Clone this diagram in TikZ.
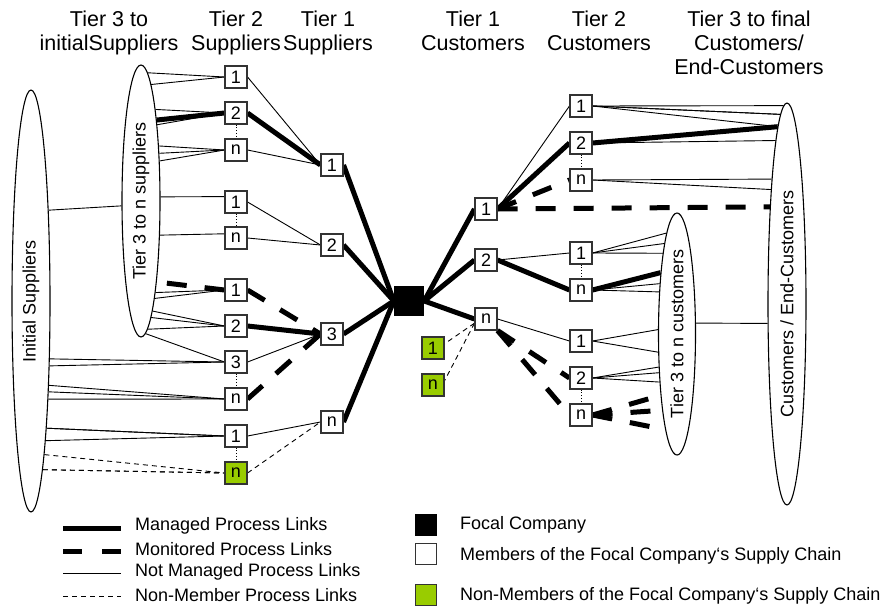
\documentclass[tikz,border=0pt]{standalone}
\usepackage{fontspec}
\setmainfont{Liberation Sans}
\usetikzlibrary{shapes.geometric, backgrounds}
\definecolor{nmgreen}{HTML}{99CC00}

\begin{document}
\begin{tikzpicture}[x=1pt, y=-1pt,
    member/.style={draw=black!80, line width=1.1pt, fill=white, minimum size=22pt, inner sep=0pt, font=\fontsize{18}{20}\selectfont},
    outsider/.style={member, fill=nmgreen},
    group/.style={draw, ellipse, line width=1.1pt, inner sep=0pt, font=\fontsize{18}{20}\selectfont},
    managed/.style={line width=5pt},
    monitored/.style={line width=5pt, dash pattern=on 20pt off 18pt},
    loose/.style={line width=0.9pt},
    nonmem/.style={line width=0.9pt, dash pattern=on 5pt off 4pt},
    tierhead/.style={anchor=north, align=center, inner sep=0pt, font=\fontsize{21.5}{24}\selectfont},
    legend/.style={anchor=west, inner sep=0pt, font=\fontsize{18}{20}\selectfont}]

\useasboundingbox (0,0) rectangle (889,610);

% headings
\node [tierhead] (H1) at (109,11) {Tier 3 to\\initialSuppliers};
\node [tierhead] (H2) at (236,11) {Tier 2\\Suppliers};
\node [tierhead] (H3) at (328,11) {Tier 1\\Suppliers};
\node [tierhead] (H4) at (473,11) {Tier 1\\Customers};
\node [tierhead] (H5) at (599,11) {Tier 2\\Customers};
\node [tierhead] (H6) at (749,11) {Tier 3 to final\\Customers/\\End-Customers};

% supplier groups
\node [group, minimum width=38pt, minimum height=422pt] (IS) at (31,301) {\rotatebox{90}{Initial Suppliers}};
\node [group, minimum width=38pt, minimum height=272pt] (TS) at (141,201) {\rotatebox{90}{Tier 3 to n suppliers}};

% tier 2 suppliers
\node [member] (S21) at (236,77) {1};
\node [member] (S22) at (236,113) {2};
\node [member] (S2n) at (236,150) {n};
\node [member] (S23) at (236,202) {1};
\node [member] (S24) at (236,238) {n};
\node [member] (S25) at (236,290) {1};
\node [member] (S26) at (236,326) {2};
\node [member] (S27) at (236,362) {3};
\node [member] (S28) at (236,399) {n};
\node [member] (S29) at (236,436) {1};
\node [outsider] (S2g) at (236,473) {n};

% tier 1 suppliers
\node [member] (S11) at (332,165) {1};
\node [member] (S12) at (332,245) {2};
\node [member] (S13) at (332,334) {3};
\node [member] (S1n) at (332,422) {n};

% focal company
\node [fill, minimum size=30pt, inner sep=0pt] (F) at (409,301) {};

% tier 1 customers
\node [member] (C11) at (486,209) {1};
\node [member] (C12) at (486,260) {2};
\node [member] (C1n) at (486,319) {n};
\node [outsider] (G1) at (433,348) {1};
\node [outsider] (Gn) at (433,385) {n};

% tier 2 customers
\node [member] (C21) at (581,106) {1};
\node [member] (C22) at (581,143) {2};
\node [member] (C23) at (581,180) {n};
\node [member] (C24) at (581,253) {1};
\node [member] (C25) at (581,290) {n};
\node [member] (C26) at (581,341) {1};
\node [member] (C27) at (581,378) {2};
\node [member] (C28) at (581,415) {n};

% customer groups
\node [group, minimum width=37pt, minimum height=242pt] (TC) at (677,334) {\rotatebox{90}{Tier 3 to n customers}};
\node [group, minimum width=38pt, minimum height=402pt] (EC) at (787,304) {\rotatebox{90}{Customers / End-Customers}};

\begin{scope}[on background layer]
    % initial suppliers / tier 3 to tier 2
    \draw [loose] (IS.79.9) -- (TS.194.7);
    \draw [loose] (TS.87.1) -- (S21.west);
    \draw [loose] (TS.85) -- (S21.west);
    \draw [loose] (TS.81.2) -- (S22.west);
    \draw [managed] (TS.79.9) -- (S22.west);
    \draw [loose] (TS.78.7) -- (S22.west);
    \draw [loose] (TS.72.1) -- (S2n.west);
    \draw [loose] (TS.69.7) -- (S2n.west);
    \draw [loose] (TS.65.5) -- (S2n.west);
    \draw [loose] (TS.12) -- (S23.155);
    \draw [loose] (TS.-61) -- (S24.160);
    \draw [monitored] (S25.west) -- (TS.-79.9);
    \draw [loose] (TS.-81.3) -- (S25.west);
    \draw [loose] (TS.-82.5) -- (S25.west);
    \draw [loose] (TS.-84.8) -- (S26.west);
    \draw [loose] (TS.-85.9) -- (S26.west);
    \draw [loose] (TS.-87.1) -- (S26.west);
    \draw [loose] (TS.-88) -- (S27.west);
    \draw [loose] (IS.-72.5) -- (S27.west);
    \draw [loose] (IS.-74.4) -- (S27.west);
    \draw [loose] (IS.-78.8) -- (S28.west);
    \draw [loose] (IS.-79.9) -- (S28.west);
    \draw [loose] (IS.-80.8) -- (S28.west);
    \draw [loose] (IS.-83) -- (S29.west);
    \draw [loose] (IS.-83.6) -- (S29.west);
    \draw [loose] (IS.-84.2) -- (S29.west);
    \draw [nonmem] (IS.-85.6) -- (S2g.west);
    \draw [nonmem] (IS.-86) -- (S2g.west);
    \draw [nonmem] (IS.-86.5) -- (S2g.west);

    % tier 2 to tier 1 suppliers
    \draw [loose] (S21.east) -- (S11.west);
    \draw [managed] (S22.east) -- (S11.west);
    \draw [loose] (S2n.east) -- (S11.west);
    \draw [loose] (S23.east) -- (S12.west);
    \draw [loose] (S24.east) -- (S12.west);
    \draw [monitored] (S25.east) -- (S13.west);
    \draw [managed] (S26.east) -- (S13.west);
    \draw [loose] (S27.east) -- (S13.west);
    \draw [monitored] (S28.east) -- (S13.west);
    \draw [loose] (S29.east) -- (S1n.west);
    \draw [nonmem] (S2g.east) -- (S1n.west);

    % focal company
    \draw [managed] (S11.east) -- (F.west);
    \draw [managed] (S12.east) -- (F.west);
    \draw [managed] (S13.east) -- (F.west);
    \draw [managed] (S1n.east) -- (F.west);
    \draw [managed] (F.east) -- (C11.west);
    \draw [managed] (F.east) -- (C12.west);
    \draw [managed] (F.east) -- (C1n.west);
    \draw [nonmem] (C1n.200) -- (G1.20);
    \draw [nonmem] (C1n.200) -- (Gn.20);

    % tier 1 to tier 2 customers
    \draw [loose] (C11.east) -- (C21.west);
    \draw [managed] (C11.east) -- (C22.west);
    \draw [monitored] (C11.east) -- (C23.west);
    \draw [monitored] (C11.east) -- (EC.100.1);
    \draw [loose] (C12.east) -- (C24.west);
    \draw [managed] (C12.east) -- (C25.west);
    \draw [loose] (C1n.east) -- (C26.west);
    \draw [monitored] (C1n.south east) -- (C27.west);
    \draw [monitored] (C1n.south east) -- (C28.west);

    % tier 2 customers to tier 3 / end-customers
    \draw [loose] (C21.east) -- (EC.91.5);
    \draw [loose] (C21.east) -- (EC.92);
    \draw [loose] (C21.east) -- (EC.92.6);
    \draw [loose] (C21.east) -- (EC.93.2);
    \draw [managed] (C22.east) -- (EC.93.7);
    \draw [loose] (C22.east) -- (EC.94.7);
    \draw [loose] (C23.east) -- (EC.97.2);
    \draw [loose] (C23.east) -- (EC.98);
    \draw [loose] (C24.east) -- (TC.96.1);
    \draw [loose] (C24.east) -- (TC.98.8);
    \draw [loose] (C24.east) -- (TC.100.7);
    \draw [managed] (C25.east) -- (TC.105.6);
    \draw [loose] (C25.east) -- (TC.109.9);
    \draw [loose] (C25.east) -- (TC.113);
    \draw [loose] (C26.east) -- (TC.167.8);
    \draw [loose] (C26.east) -- (TC.224.5);
    \draw [loose] (C27.east) -- (TC.241.7);
    \draw [loose] (C27.east) -- (TC.245.8);
    \draw [loose] (C27.east) -- (TC.250.1);
    \draw [monitored] (C28.east) -- (TC.255.9);
    \draw [monitored] (C28.east) -- (TC.259.3);
    \draw [monitored] (C28.east) -- (TC.263);
    \draw [loose] (TC.30.9) -- (EC.225.2);

    % same tier
    \draw [dotted, line width=0.8pt] (S22.south) -- (S2n.north);
    \draw [dotted, line width=0.8pt] (S23.south) -- (S24.north);
    \draw [dotted, line width=0.8pt] (S27.south) -- (S28.north);
    \draw [dotted, line width=0.8pt] (S29.south) -- (S2g.north);
    \draw [dotted, line width=0.8pt] (C22.south) -- (C23.north);
    \draw [dotted, line width=0.8pt] (C24.south) -- (C25.north);
    \draw [dotted, line width=0.8pt] (C27.south) -- (C28.north);
\end{scope}

% legend
\coordinate (L1a) at (63,528);
\coordinate (L1b) at (121,528);
\coordinate (L2a) at (63,551);
\coordinate (L2b) at (121,551);
\coordinate (L3a) at (63,573);
\coordinate (L3b) at (121,573);
\coordinate (L4a) at (63,596);
\coordinate (L4b) at (121,596);
\draw [managed] (L1a) -- (L1b);
\draw [line width=5pt, dash pattern=on 19pt off 20pt] (L2a) -- (L2b);
\draw [loose] (L3a) -- (L3b);
\draw [nonmem] (L4a) -- (L4b);
\node [legend] (T1) at (135,526) {Managed Process Links};
\node [legend] (T2) at (135,549) {Monitored Process Links};
\node [legend] (T3) at (135,572) {Not Managed Process Links};
\node [legend] (T4) at (135,595) {Non-Member Process Links};

\node [fill, minimum size=22pt, inner sep=0pt] (K1) at (426,525) {};
\node [draw=black!80, line width=1.1pt, minimum size=21pt, inner sep=0pt] (K2) at (426,554) {};
\node [draw=black!80, line width=1.1pt, fill=nmgreen, minimum size=21pt, inner sep=0pt] (K3) at (426,595) {};
\node [legend] (T5) at (460,525) {Focal Company};
\node [legend] (T6) at (460,556) {Members of the Focal Company‘s Supply Chain};
\node [legend] (T7) at (460,596) {Non-Members of the Focal Company‘s Supply Chain};
\end{tikzpicture}
\end{document}
